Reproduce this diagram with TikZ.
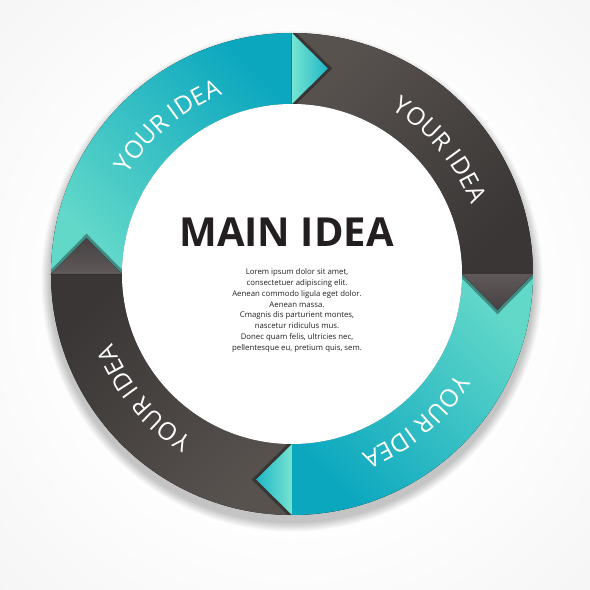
\documentclass[tikz,border=0pt]{standalone}
\usepackage{fontspec}
\newfontfamily\osans{Open Sans}
\usetikzlibrary{decorations.text}
\definecolor{tealL}{HTML}{62D8C9}
\definecolor{tealD}{HTML}{0BA7BF}
\definecolor{tipTL}{HTML}{76E4D2}
\definecolor{tipTD}{HTML}{1FB6C6}
\definecolor{grayL}{HTML}{58524F}
\definecolor{grayD}{HTML}{393635}
\definecolor{tipGL}{HTML}{5F595A}
\definecolor{tipGD}{HTML}{464142}
\definecolor{txt}{HTML}{231F20}
\pgfdeclareradialshading{bgshade}{\pgfpoint{0bp}{0bp}}{color(0bp)=(white); color(18bp)=(white); color(50bp)=(black!7)}
\newcommand\ideafont{\osans\fontsize{24.5}{24.5}\selectfont\color{white}}
\begin{document}
\begin{tikzpicture}[x=1pt,y=1pt,
  tipshadow/.style={fill=black,opacity=0.35},
  idea/.style={decorate,decoration={text along path,text align=center,text={|\ideafont|YOUR IDEA}}}]
\useasboundingbox (-292,-316) rectangle (298,274);
\shade[shading=bgshade] (-292,-316) rectangle (298,274);
% ring shadow
\foreach \i in {1,...,12} \fill[black,opacity=0.02] (0,-7) circle ({241+0.8*\i});
% segments
\fill[top color=tealD,bottom color=tealL,shading angle=-45]
  (180:241) arc[start angle=180,end angle=90,radius=241] -- (90:170) arc[start angle=90,end angle=180,radius=170] -- cycle;
\fill[top color=grayL,bottom color=grayD,shading angle=45]
  (90:241) arc[start angle=90,end angle=0,radius=241] -- (0:170) arc[start angle=0,end angle=90,radius=170] -- cycle;
\fill[top color=tealD,bottom color=tealL,shading angle=135]
  (0:241) arc[start angle=0,end angle=-90,radius=241] -- (-90:170) arc[start angle=-90,end angle=0,radius=170] -- cycle;
\fill[top color=grayD,bottom color=grayL,shading angle=45]
  (-90:241) arc[start angle=-90,end angle=-180,radius=241] -- (180:170) arc[start angle=180,end angle=270,radius=170] -- cycle;
% tips
\begin{scope}[even odd rule]
  \clip (0,0) circle (241) (0,0) circle (170);
  \fill[tipshadow] (0,245.3) -- (40.3,205.5) -- (0,165.7) -- cycle;
  \fill[tipshadow] (245.3,0) -- (205.5,-40.3) -- (165.7,0) -- cycle;
  \fill[tipshadow] (0,-245.3) -- (-40.3,-205.5) -- (0,-165.7) -- cycle;
  \fill[tipshadow] (-245.3,0) -- (-205.5,40.3) -- (-165.7,0) -- cycle;
  \fill[top color=tipTD,bottom color=tipTL,shading angle=-90] (0,241) -- (36,205.5) -- (0,170) -- cycle;
  \fill[top color=tipGL,bottom color=tipGD,shading angle=0] (241,0) -- (205.5,-36) -- (170,0) -- cycle;
  \fill[top color=tipTD,bottom color=tipTL,shading angle=90] (0,-241) -- (-36,-205.5) -- (0,-170) -- cycle;
  \fill[top color=tipGD,bottom color=tipGL,shading angle=0] (-241,0) -- (-205.5,36) -- (-170,0) -- cycle;
\end{scope}
% inner disc
\fill[white] (0,0) circle (170);
% labels
\foreach \a in {130,40,-50,-140}
  \path[idea] ({\a+45}:192) arc[start angle={\a+45},end angle={\a-45},radius=192];
\node[font=\osans\bfseries\fontsize{40}{40}\selectfont,text=txt] (main) at (-5.5,42) {MAIN IDEA};
\node[font=\osans\fontsize{7.8}{10.86}\selectfont,text=txt,align=center] (body) at (5,-36.5)
  {Lorem ipsum dolor sit amet,\\consectetuer adipiscing elit.\\Aenean commodo ligula eget dolor.\\Aenean massa.\\Cmagnis dis parturient montes,\\nascetur ridiculus mus.\\Donec quam felis, ultricies nec,\\pellentesque eu, pretium quis, sem.};
\end{tikzpicture}
\end{document}
